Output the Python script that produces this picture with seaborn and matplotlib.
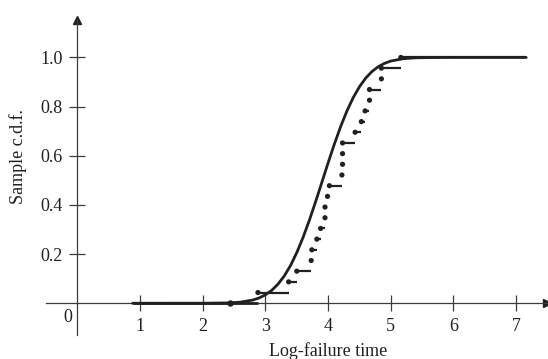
import numpy as np
import pandas as pd
import seaborn as sns
import matplotlib.pyplot as plt

log_times = [2.88, 3.37, 3.50, 3.73, 3.74, 3.82, 3.88, 3.95, 3.95, 3.99, 4.02,
             4.22, 4.23, 4.23, 4.23, 4.43, 4.53, 4.59, 4.66, 4.66, 4.85, 4.85, 5.16]
cdf_start = 0.88     # left end of the drawn step function / curve
cdf_end = 7.16       # right end
stray_dot = (2.44, 0.0)

# Smooth c.d.f. curve
curve_x = [0.88, 2.0, 2.4, 2.6, 2.8, 2.9, 3.0, 3.1, 3.2, 3.3, 3.4, 3.5, 3.6, 3.7,
           3.8, 3.9, 4.0, 4.1, 4.2, 4.3, 4.4, 4.5, 4.6, 4.7, 4.8, 4.9, 5.0, 5.2,
           5.4, 5.6, 6.0, 7.16]
curve_y = [0.0, 0.0001, 0.0013, 0.0044, 0.0131, 0.0216, 0.0343, 0.0524, 0.0776,
           0.1109, 0.1533, 0.2061, 0.2676, 0.3372, 0.4129, 0.4920, 0.5714, 0.6480,
           0.7190, 0.7823, 0.8365, 0.8810, 0.9162, 0.9429, 0.9625, 0.9761, 0.9854,
           0.9951, 0.9986, 0.9996, 1.0, 1.0]

x_ticks = [1, 2, 3, 4, 5, 6, 7]
y_ticks = [0.2, 0.4, 0.6, 0.8, 1.0]
y_tick_labels = ['0.2', '0.4', '0.6', '0.8', '1.0']

sns.set_style('white')
plt.rcParams['font.family'] = ['Liberation Serif', 'DejaVu Serif']

ink = '#231f20'
axis_col = '#3c3c3c'

n = len(log_times)
steps = pd.DataFrame({'x': log_times, 'F': np.arange(1, n + 1) / n})
steps['x_next'] = steps['x'].shift(-1).fillna(cdf_end)

fig = plt.figure(figsize=(5.48, 3.59), dpi=100)
ax = fig.add_axes([0.084, 0.067, 0.914, 0.877])

# step function
ax.hlines(0.0, cdf_start, log_times[0], color=ink, lw=2.0, zorder=3)
ax.hlines(steps['F'], steps['x'], steps['x_next'], color=ink, lw=1.6, zorder=3)
sns.scatterplot(data=steps, x='x', y='F', ax=ax, color=ink, s=14,
                edgecolor='none', zorder=4)
ax.plot(*stray_dot, 'o', color=ink, ms=3.6, zorder=4)

# smooth curve
sns.lineplot(x=curve_x, y=curve_y, ax=ax, color=ink, lw=2.0, zorder=5)

ax.set_xlim(-0.5, 7.49)
ax.set_ylim(-0.129, 1.152)

for side in ['top', 'right']:
    ax.spines[side].set_visible(False)
for side in ['left', 'bottom']:
    ax.spines[side].set_position(('data', 0))
    ax.spines[side].set_color(axis_col)
    ax.spines[side].set_linewidth(0.9)

# arrow heads
ax.plot(1, 0, marker='>', ms=6, color=ink, transform=ax.get_yaxis_transform(),
        clip_on=False)
ax.plot(0, 1, marker='^', ms=6, color=ink, transform=ax.get_xaxis_transform(),
        clip_on=False)

ax.set_xticks(x_ticks)
ax.set_xticklabels([str(t) for t in x_ticks])
ax.set_yticks(y_ticks)
ax.set_yticklabels(y_tick_labels)
ax.tick_params(axis='both', direction='inout', length=11, width=0.9,
               color=axis_col, labelsize=13, labelcolor=ink,
               bottom=True, left=True)
ax.tick_params(axis='x', pad=5)
ax.tick_params(axis='y', pad=5)

ax.text(-0.16, -0.06, '0', ha='center', va='center', fontsize=13, color=ink)

ax.set_xlabel('Log-failure time', fontsize=13, color=ink)
ax.set_ylabel('Sample c.d.f.', fontsize=13, color=ink)
ax.xaxis.set_label_coords(0.563, -0.024)
ax.yaxis.set_label_coords(-0.038, 0.565)

fig.savefig('out.png', dpi=100)
